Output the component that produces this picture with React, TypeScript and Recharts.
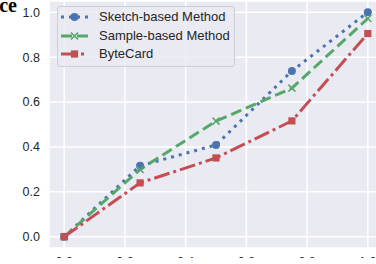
import React from 'react';
import { LineChart, Line, XAxis, YAxis, CartesianGrid } from 'recharts';

const xValues = [0, 0.25, 0.5, 0.75, 1.0];
const sketchValues = [0, 0.316, 0.409, 0.738, 1.0];
const sampleValues = [0, 0.3, 0.515, 0.662, 0.972];
const byteCardValues = [0, 0.24, 0.351, 0.516, 0.905];
const xTicks = [0, 0.2, 0.4, 0.6, 0.8, 1.0];
const yTicks = [0, 0.2, 0.4, 0.6, 0.8, 1.0];
const seriesNames = ['Sketch-based Method', 'Sample-based Method', 'ByteCard'];
const titleFragment = 'ce';

const BLUE = '#4C72B0';
const GREEN = '#55A868';
const RED = '#C44E52';
const BG = '#EAEAF2';
const TEXT = '#262626';

const data = xValues.map((x, i) => ({
  x,
  sketch: sketchValues[i],
  sample: sampleValues[i],
  bytecard: byteCardValues[i],
}));

const CircleDot = (p: any) => (
  <circle key={`c-${p.index}`} cx={p.cx} cy={p.cy} r={4} fill={BLUE} />
);
const XDot = (p: any) => (
  <path
    key={`x-${p.index}`}
    d={`M${p.cx - 3.5},${p.cy - 3.5}L${p.cx + 3.5},${p.cy + 3.5}M${p.cx - 3.5},${p.cy + 3.5}L${p.cx + 3.5},${p.cy - 3.5}`}
    stroke={GREEN}
    strokeWidth={1.5}
    fill="none"
  />
);
const SquareDot = (p: any) => (
  <rect key={`s-${p.index}`} x={p.cx - 3.6} y={p.cy - 3.6} width={7.2} height={7.2} fill={RED} />
);

const fmt = (v: number) => v.toFixed(1);

const legendItems = [
  { name: seriesNames[0], color: BLUE, dash: '3 5', marker: 'circle' },
  { name: seriesNames[1], color: GREEN, dash: '11 5', marker: 'x' },
  { name: seriesNames[2], color: RED, dash: '16 4 3 4', marker: 'square' },
];

function LegendMarker({ type, color }: { type: string; color: string }) {
  const cx = 13.5;
  const cy = 9;
  if (type === 'circle') return <circle cx={cx} cy={cy} r={4} fill={color} />;
  if (type === 'x')
    return (
      <path
        d={`M${cx - 3.5},${cy - 3.5}L${cx + 3.5},${cy + 3.5}M${cx - 3.5},${cy + 3.5}L${cx + 3.5},${cy - 3.5}`}
        stroke={color}
        strokeWidth={1.5}
      />
    );
  return <rect x={cx - 3.6} y={cy - 3.6} width={7.2} height={7.2} fill={color} />;
}

export default function App() {
  return (
    <div
      style={{
        position: 'absolute',
        left: 0,
        top: 0,
        width: 376,
        height: 264,
        background: '#fff',
        fontFamily: '"Liberation Sans", Arial, sans-serif',
      }}
    >
      <div style={{ position: 'absolute', left: 0, top: 0, width: 376, height: 258, overflow: 'hidden' }}>
        <LineChart width={400} height={280} data={data} margin={{ top: 1, right: 17, bottom: 2, left: 0 }}>
          <CartesianGrid fill={BG} fillOpacity={1} stroke="#ffffff" strokeWidth={1.5} />
          <XAxis
            type="number"
            dataKey="x"
            domain={[-0.05, 1.05]}
            ticks={xTicks}
            tickFormatter={fmt}
            axisLine={false}
            tickLine={false}
            tickMargin={3}
            height={30}
            tick={{ fill: TEXT, fontSize: 12.5, fontFamily: '"Liberation Sans", Arial, sans-serif' }}
          />
          <YAxis
            type="number"
            domain={[-0.05, 1.05]}
            ticks={yTicks}
            tickFormatter={fmt}
            axisLine={false}
            tickLine={false}
            tickMargin={3}
            width={49}
            tick={{ fill: TEXT, fontSize: 12.5, fontFamily: '"Liberation Sans", Arial, sans-serif' }}
          />
          <Line
            dataKey="sketch"
            stroke={BLUE}
            strokeWidth={3}
            strokeDasharray="3 5"
            dot={CircleDot}
            activeDot={false}
            isAnimationActive={false}
          />
          <Line
            dataKey="sample"
            stroke={GREEN}
            strokeWidth={3}
            strokeDasharray="11 5"
            dot={XDot}
            activeDot={false}
            isAnimationActive={false}
          />
          <Line
            dataKey="bytecard"
            stroke={RED}
            strokeWidth={3}
            strokeDasharray="16 4 3 4"
            dot={SquareDot}
            activeDot={false}
            isAnimationActive={false}
          />
        </LineChart>
      </div>
      <div
        style={{
          position: 'absolute',
          left: -1,
          top: -7,
          width: 18,
          textAlign: 'right',
          fontFamily: '"Liberation Serif", "Times New Roman", serif',
          fontWeight: 'bold',
          fontSize: 20,
          color: '#000',
          lineHeight: '24px',
        }}
      >
        {titleFragment}
      </div>
      <div
        style={{
          position: 'absolute',
          left: 57,
          top: 6,
          width: 176,
          height: 59,
          border: '1px solid #cfcfd6',
          borderRadius: 3,
          background: 'rgba(234,234,242,0.8)',
        }}
      >
        {legendItems.map((it, i) => (
          <div
            key={it.name}
            style={{ position: 'absolute', left: 0, top: 1 + i * 18.65, height: 18, width: 176 }}
          >
            <svg width={27} height={18} style={{ position: 'absolute', left: 3, top: 0 }}>
              <line x1={0} y1={9} x2={27} y2={9} stroke={it.color} strokeWidth={3} strokeDasharray={it.dash} />
              <LegendMarker type={it.marker} color={it.color} />
            </svg>
            <span
              style={{
                position: 'absolute',
                left: 41,
                top: 0,
                lineHeight: '18px',
                fontSize: 13,
                color: TEXT,
                whiteSpace: 'nowrap',
              }}
            >
              {it.name}
            </span>
          </div>
        ))}
      </div>
    </div>
  );
}
